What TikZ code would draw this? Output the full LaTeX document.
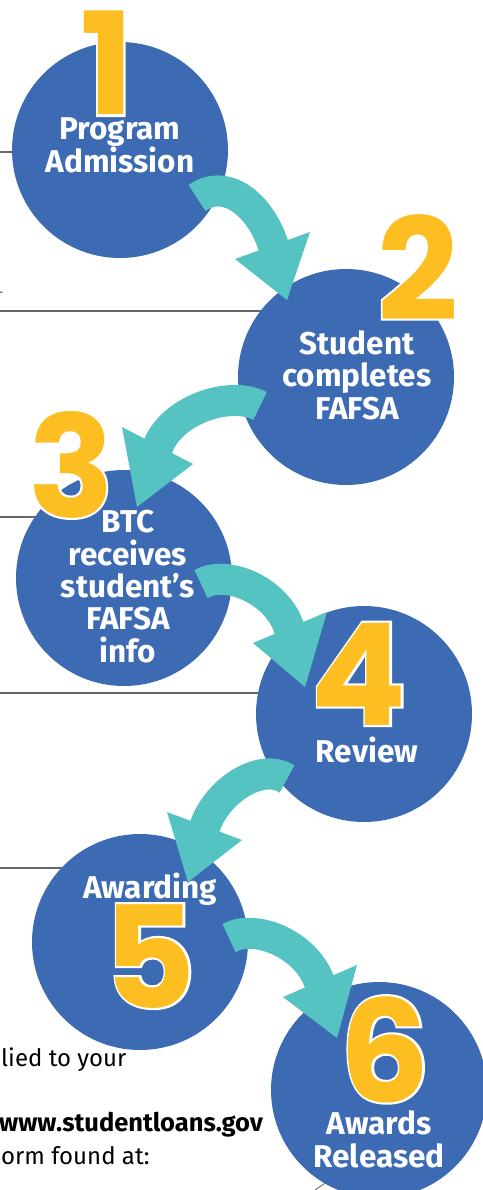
\documentclass[tikz,border=0pt]{standalone}
\usepackage{fontspec}
\setmainfont{Fira Sans}
\newfontfamily\digitfont{Poppins}
\newfontfamily\digitol{Poppins}[BoldFeatures={FakeBold=3}]
\definecolor{bubble}{HTML}{3C6BB4}
\definecolor{arrowteal}{HTML}{54C3C1}
\definecolor{digityellow}{HTML}{FDBE22}
\definecolor{guidegray}{HTML}{666666}
\newcommand\bigdigit[1]{\rlap{\digitol\bfseries\color{white}#1}{\digitfont\bfseries\color{digityellow}#1}}
\tikzset{
  stepcircle/.style={circle, fill=bubble, minimum size=216pt, inner sep=0pt},
  circtext/.style={text=white, font=\bfseries\fontsize{31.5}{32.3}\selectfont, align=center, anchor=base, inner sep=0pt},
  band/.style={draw=arrowteal, line width=31pt},
  headfill/.style={fill=arrowteal},
  guide/.style={draw=guidegray, line width=1.2pt},
  digit/.style={anchor=base, inner sep=0pt, font=\fontsize{142}{142}\selectfont},
  note/.style={anchor=base west, inner sep=0pt, font=\fontsize{24}{26}\selectfont, text=black},
}
\begin{document}
\begin{tikzpicture}[x=1pt,y=-1pt]
\useasboundingbox (0,0) rectangle (482,1190);
% guide lines (behind circles)
\coordinate (g1a) at (0,152);  \coordinate (g1b) at (40,152);
\coordinate (g2a) at (0,292);  \coordinate (g2b) at (2.5,292.5);
\coordinate (g3a) at (0,311);  \coordinate (g3b) at (300,311);
\coordinate (g4a) at (0,517);  \coordinate (g4b) at (60,517);
\coordinate (g5a) at (0,693);  \coordinate (g5b) at (290,693);
\coordinate (g6a) at (0,868);  \coordinate (g6b) at (90,868);
\coordinate (g7a) at (315,1190); \coordinate (g7b) at (340,1173);
\draw[guide] (g1a) -- (g1b);
\draw[guide] (g2a) -- (g2b);
\draw[guide] (g3a) -- (g3b);
\draw[guide] (g4a) -- (g4b);
\draw[guide] (g5a) -- (g5b);
\draw[guide] (g6a) -- (g6b);
\draw[guide, line width=0.8pt] (g7a) -- (g7b);
% circles
\node[stepcircle] (c1) at (120,150) {};
\node[stepcircle] (c2) at (346,377) {};
\node[stepcircle] (c3) at (124,578) {};
\node[stepcircle] (c4) at (364,714) {};
\node[stepcircle] (c5) at (140,942) {};
\node[stepcircle] (c6) at (379,1090) {};
% arrows
\coordinate (t12) at (197,198); \coordinate (b12) at (274,248); \coordinate (h12) at (287,300);
\draw[band] (t12) .. controls (228,176) and (263,209) .. (b12);
\fill[headfill] (310,232) -- (h12) -- (235,259) -- cycle;
\coordinate (t23) at (260,406); \coordinate (b23) at (157,449); \coordinate (h23) at (137,507);
\draw[band] (t23) .. controls (230,390) and (170,410) .. (b23);
\fill[headfill] (122,427) -- (h23) -- (193,464) -- cycle;
\coordinate (t34) at (201,584); \coordinate (b34) at (290,631); \coordinate (h34) at (305,687);
\draw[band] (t34) .. controls (227,569) and (279,591) .. (b34);
\fill[headfill] (327,612) -- (h34) -- (253,643) -- cycle;
\coordinate (t45) at (287,779); \coordinate (b45) at (204,829); \coordinate (h45) at (188,882);
\draw[band] (t45) .. controls (262,762) and (216,790) .. (b45);
\fill[headfill] (167,812) -- (h45) -- (242,840) -- cycle;
\coordinate (t56) at (229,938); \coordinate (b56) at (320,984); \coordinate (h56) at (337,1038);
\draw[band] (t56) .. controls (255,923) and (308,945) .. (b56);
\fill[headfill] (357,965) -- (h56) -- (283,997) -- cycle;
% digits
\node[digit] (d1) at (107,115) {\bigdigit{1}};
\node[digit] (d2) at (418,320) {\bigdigit{2}};
\node[digit] (d3) at (71,517) {\bigdigit{3}};
\node[digit] (d4) at (359,725) {\bigdigit{4}};
\node[digit] (d5) at (150,1008) {\bigdigit{5}};
\node[digit] (d6) at (385,1102) {\bigdigit{6}};
% circle texts (anchor = baseline of last line)
\node[circtext] (l1) at (120,173) {Program\\Admission};
\node[circtext] (l2) at (357,419) {Student\\completes\\FAFSA};
\node[circtext] (l3) at (128,662) {BTC\\receives\\student\char"0027 s\\FAFSA\\info};
\node[circtext] (l4) at (367,762) {Review};
\node[circtext] (l5) at (150,898) {Awarding};
\node[circtext] (l6) at (379,1167) {Awards\\Released};
% bottom-left text
\node[note] (n1) at (1,1066) {lied to your};
\node[note, font=\bfseries\fontsize{25.5}{26}\selectfont] (n2) at (-1,1131) {www.studentloans.gov};
\node[note] (n3) at (1,1164) {orm found at:};
\end{tikzpicture}
\end{document}
